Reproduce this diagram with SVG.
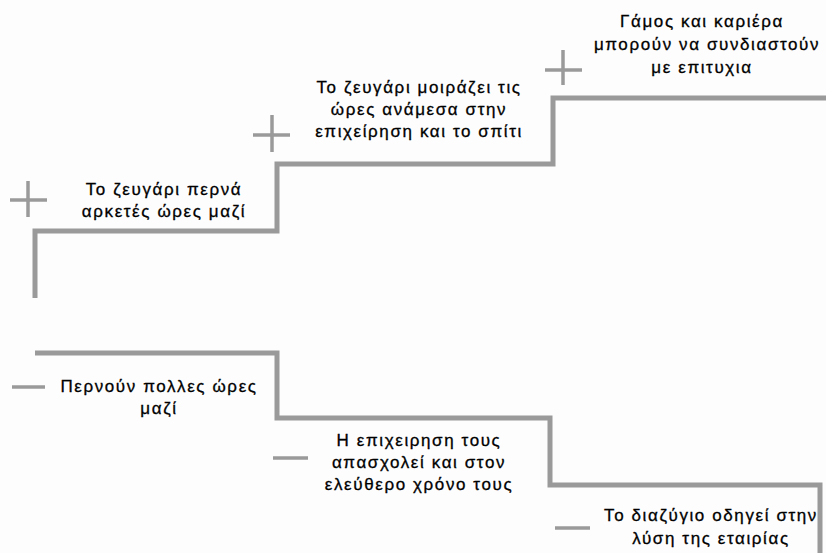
<svg xmlns="http://www.w3.org/2000/svg" width="826" height="553" viewBox="0 0 826 553">
<style>
.step{fill:none;stroke:#9a9a9a;stroke-width:5;stroke-linejoin:miter}
.sign{fill:none;stroke:#9a9a9a;stroke-width:3.5}
text{font-family:"Liberation Sans",Arial,sans-serif;font-size:17px;fill:#000;stroke:#000;stroke-width:0.3;text-anchor:middle;letter-spacing:1.6px}
</style>
<rect width="826" height="553" fill="#fdfdfd"/>
<g id="connectors">
<path class="step" d="M35,298 V231 H277 V164 H553 V98 H826"/>
<path class="step" d="M35,353 H277 V418 H550 V485 H820 V553"/>
</g>
<g id="pos1">
<path class="sign" d="M10,200 H47 M28,181 V217"/>
<text x="164" y="195">Το ζευγάρι περνά</text>
<text x="164" y="217">αρκετές ώρες μαζί</text>
</g>
<g id="pos2">
<path class="sign" d="M253,135 H290 M272,115 V152"/>
<text x="419" y="93">Το ζευγάρι μοιράζει τις</text>
<text x="419" y="115">ώρες ανάμεσα στην</text>
<text x="419" y="137">επιχείρηση και το σπίτι</text>
</g>
<g id="pos3">
<path class="sign" d="M545,70 H582 M563,50 V85"/>
<text x="702" y="27">Γάμος και καριέρα</text>
<text x="707" y="50">μπορούν να συνδιαστούν</text>
<text x="702" y="73">με επιτυχια</text>
</g>
<g id="neg1">
<path class="sign" d="M12,387 H45"/>
<text x="159" y="392">Περνούν πολλες ώρες</text>
<text x="159" y="414">μαζί</text>
</g>
<g id="neg2">
<path class="sign" d="M273,458 H308"/>
<text x="419" y="446">Η επιχειρηση τους</text>
<text x="419" y="468">απασχολεί και στον</text>
<text x="419" y="490">ελεύθερο χρόνο τους</text>
</g>
<g id="neg3">
<path class="sign" d="M555,528 H590"/>
<text x="711" y="521">Το διαζύγιο οδηγεί στην</text>
<text x="711" y="544">λύση της εταιρίας</text>
</g>
</svg>
